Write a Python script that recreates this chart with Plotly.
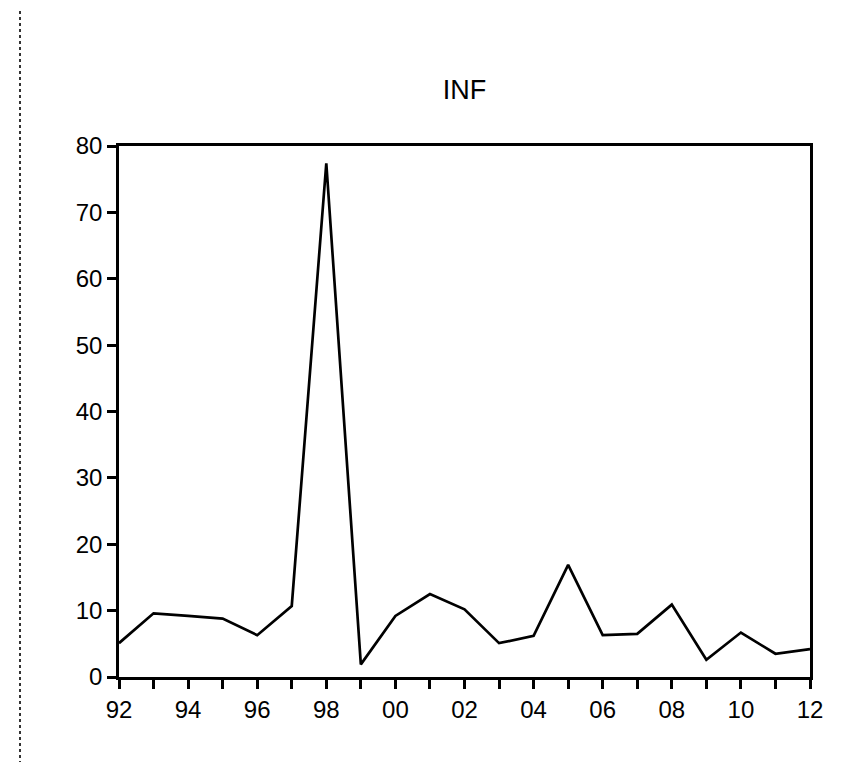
import plotly.graph_objects as go

# Data (annual inflation)
years = list(range(1992, 2013))
inf_values = [5.1, 9.6, 9.2, 8.8, 6.3, 10.7, 77.4, 1.9, 9.2, 12.5, 10.2,
              5.1, 6.2, 16.9, 6.3, 6.5, 10.9, 2.6, 6.7, 3.5, 4.2]
x_tick_vals = list(range(1992, 2013))
x_tick_text = ["92", "", "94", "", "96", "", "98", "", "00", "", "02", "",
               "04", "", "06", "", "08", "", "10", "", "12"]
y_tick_vals = [0, 10, 20, 30, 40, 50, 60, 70, 80]

FONT = "Liberation Sans Narrow, Arial Narrow, Liberation Sans, Arial, sans-serif"

fig = go.Figure()
fig.add_trace(go.Scatter(
    x=years, y=inf_values, mode="lines",
    line=dict(color="black", width=2.7),
    showlegend=False, hoverinfo="x+y",
))

fig.update_layout(
    width=862, height=762,
    paper_bgcolor="white", plot_bgcolor="white",
    margin=dict(l=111, r=60, t=138, b=93),
    title=dict(text="INF", x=0.5, xref="paper", y=1 - 82 / 762, yref="container",
               xanchor="center", yanchor="middle",
               font=dict(family=FONT, size=27, color="black")),
    font=dict(family=FONT, size=24, color="black"),
)

fig.update_xaxes(
    range=[1992, 2012], tickmode="array", tickvals=x_tick_vals, ticktext=x_tick_text,
    ticks="outside", ticklen=9, tickwidth=2.5, tickcolor="black",
    showline=True, linecolor="black", linewidth=2.7, mirror=True,
    showgrid=False, zeroline=False,
    tickfont=dict(family=FONT, size=24, color="black"),
)
fig.update_yaxes(
    range=[0, 80], tickmode="array", tickvals=y_tick_vals,
    ticks="outside", ticklen=9, tickwidth=2.5, tickcolor="black",
    showline=True, linecolor="black", linewidth=2.7, mirror=True,
    showgrid=False, zeroline=False,
    tickfont=dict(family=FONT, size=24, color="black"),
)

# dark dotted vertical line at the far left edge of the scan
fig.add_shape(type="line", xref="paper", yref="paper",
              x0=-99 / 691, x1=-99 / 691, y0=-93 / 531, y1=1 + 138 / 531,
              line=dict(color="#333333", width=2, dash="dot"))

fig.write_html("out.html")
